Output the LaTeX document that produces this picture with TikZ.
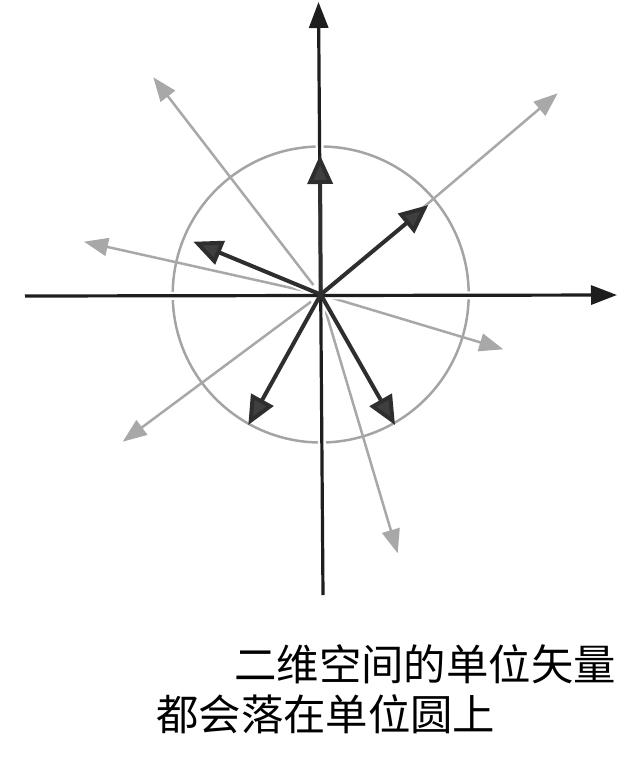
\documentclass[tikz,border=0pt]{standalone}
\usepackage{fontspec}
\newfontfamily\cjk{Noto Sans CJK SC}
\usetikzlibrary{arrows.meta}
\definecolor{axisdark}{HTML}{1E1E1E}
\definecolor{vecdark}{HTML}{2E2E2E}
\definecolor{vecgray}{HTML}{A8A8A8}
\definecolor{ringgray}{HTML}{A4A4A4}
\begin{document}
\begin{tikzpicture}[x=1pt, y=-1pt,
        axis/.style={draw=axisdark, line width=3.2pt, -{Triangle[length=26pt, width=19pt]}},
        unitvec/.style={draw=vecdark, line width=4pt, -{Triangle[length=29pt, width=25pt, fill=vecdark!92!white]}},
        longvec/.style={draw=vecgray, line width=2.5pt, shorten <=12pt, -{Triangle[length=24pt, width=18pt]}},
        halo/.style={draw=white, line width=8pt, shorten >=12pt},
        caption/.style={font=\cjk\fontsize{42.4}{52}\selectfont, inner sep=0pt, anchor=base west}
    ]
        \useasboundingbox (0,0) rectangle (633,764);

        % Origin and axis ends
        \coordinate (o) at (320.7,294.5);
        \coordinate (xl) at (25,296);
        \coordinate (xr) at (617,295);
        \coordinate (yt) at (318.5,2);
        \coordinate (yb) at (323,595);

        % Unit circle
        \draw[ringgray, line width=2.5pt] (o) circle[radius=148];

        % Longer vectors (grey)
        \coordinate (g1) at (153.3,77.3);
        \coordinate (g2) at (557.7,93.3);
        \coordinate (g3) at (84,241.7);
        \coordinate (g4) at (503.3,349.3);
        \coordinate (g5) at (122.7,441.7);
        \coordinate (g6) at (397.7,553.3);
        \draw[longvec] (o) -- (g1);
        \draw[longvec] (o) -- (g2);
        \draw[longvec] (o) -- (g3);
        \draw[longvec] (o) -- (g4);
        \draw[longvec] (o) -- (g5);
        \draw[longvec] (o) -- (g6);

        % Unit vectors
        \coordinate (u1) at (320,155);
        \coordinate (u2) at (428.3,205);
        \coordinate (u3) at (193.3,241.7);
        \coordinate (u4) at (248.3,425);
        \coordinate (u5) at (395,425);

        % White gaps under the dark lines
        \draw[halo] (xl) -- (xr);
        \draw[halo] (yb) -- (yt);
        \draw[halo] (o) -- (u1);
        \draw[halo] (o) -- (u2);
        \draw[halo] (o) -- (u3);
        \draw[halo] (o) -- (u4);
        \draw[halo] (o) -- (u5);

        % Axes
        \draw[axis] (xl) -- (xr);
        \draw[axis] (yb) -- (yt);

        \draw[unitvec] (o) -- (u1);
        \draw[unitvec] (o) -- (u2);
        \draw[unitvec] (o) -- (u3);
        \draw[unitvec] (o) -- (u4);
        \draw[unitvec] (o) -- (u5);

        % Caption
        \node[caption] (line1) at (234,680) {二维空间的单位矢量};
        \node[caption] (line2) at (156,730) {都会落在单位圆上};
    \end{tikzpicture}
\end{document}
